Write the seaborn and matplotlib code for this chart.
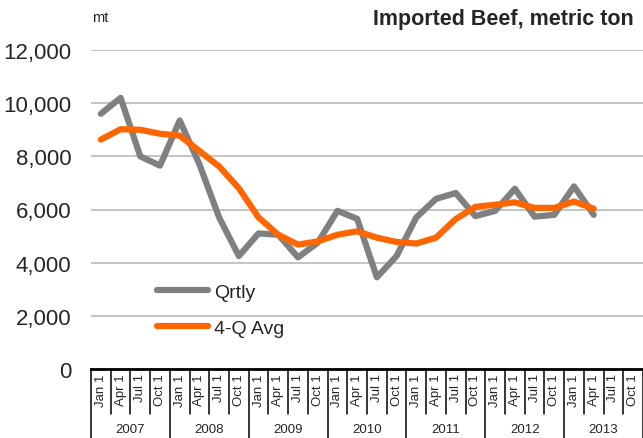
import matplotlib
matplotlib.use("Agg")
import matplotlib.pyplot as plt
import matplotlib.transforms as mtransforms
from matplotlib.ticker import FuncFormatter
import pandas as pd
import seaborn as sns

years = ["2007", "2008", "2009", "2010", "2011", "2012", "2013"]
quarters = ["Jan 1", "Apr 1", "Jul 1", "Oct 1"]
qrtly = [9600, 10200, 8000, 7650, 9350, 7700, 5700, 4250, 5100, 5050,
         4200, 4750, 5950, 5650, 3450, 4250, 5700, 6400, 6620, 5750,
         5950, 6780, 5730, 5800, 6870, 5800]
avg_4q = [8630, 9020, 9000, 8850, 8780, 8200, 7620, 6800, 5700, 5050,
          4680, 4800, 5050, 5180, 4940, 4780, 4720, 4940, 5640, 6100,
          6180, 6270, 6060, 6060, 6300, 6030]

tick_labels = [q for _ in years for q in quarters]
n = len(qrtly)
df = pd.DataFrame({
    "x": list(range(n)) * 2,
    "value": qrtly + avg_4q,
    "series": ["Qrtly"] * n + ["4-Q Avg"] * n,
})

sns.set_style("white")
plt.rcParams["font.family"] = ["Liberation Sans", "DejaVu Sans"]

fig = plt.figure(figsize=(6.43, 4.39), dpi=100)
ax = fig.add_axes([91 / 643, 1 - 370 / 439, 552 / 643, 319 / 439])

sns.lineplot(data=df, x="x", y="value", hue="series", ax=ax,
             palette={"Qrtly": "#808080", "4-Q Avg": "#FF6600"},
             linewidth=4.5, solid_capstyle="round", solid_joinstyle="round")

ax.set_xlim(-0.5, len(tick_labels) - 0.5)
ax.set_ylim(0, 12000)
ax.set_yticks(range(0, 12001, 2000))
ax.yaxis.set_major_formatter(FuncFormatter(lambda v, p: f"{int(v):,}"))
ax.tick_params(axis="y", labelsize=16, length=0, pad=14)
ax.set_xticks(range(len(tick_labels)))
ax.set_xticklabels(tick_labels, rotation=90, fontsize=9.5)
ax.tick_params(axis="x", length=0, pad=3)
ax.set_xlabel("")
ax.set_ylabel("")

ax.grid(axis="y", color="#BFBFBF", linewidth=1.3)
ax.set_axisbelow(True)
for side in ["top", "right", "left"]:
    ax.spines[side].set_visible(False)
ax.spines["bottom"].set_color("black")
ax.spines["bottom"].set_linewidth(2)

# category separators below the axis
trans = mtransforms.blended_transform_factory(ax.transData, ax.transAxes)
for i in range(len(tick_labels) + 1):
    y_end = -0.22 if i % 4 == 0 else -0.141
    ax.plot([i - 0.5, i - 0.5], [0, y_end], color="black", lw=1.1,
            transform=trans, clip_on=False)
for k, yr in enumerate(years):
    ax.text(4 * k + 1.5, -0.188, yr, transform=trans, ha="center",
            va="center", fontsize=9.5)

leg = ax.legend(loc="center left", bbox_to_anchor=(0.12, 0.185),
                frameon=False, fontsize=14, handlelength=2.6,
                handletextpad=0.3, labelspacing=0.95, borderpad=0,
                borderaxespad=0)
for line in leg.get_lines():
    line.set_linewidth(4.5)

fig.text(92 / 643, 1 - 18 / 439, "mt", fontsize=10.5, va="center", ha="left")
fig.text(634 / 643, 1 - 9 / 439, "Imported Beef, metric ton", fontsize=15.5,
         fontweight="bold", ha="right", va="top",
         family=["Liberation Sans Narrow", "Liberation Sans", "DejaVu Sans"])

fig.savefig("out.png", dpi=100)
plt.close(fig)
